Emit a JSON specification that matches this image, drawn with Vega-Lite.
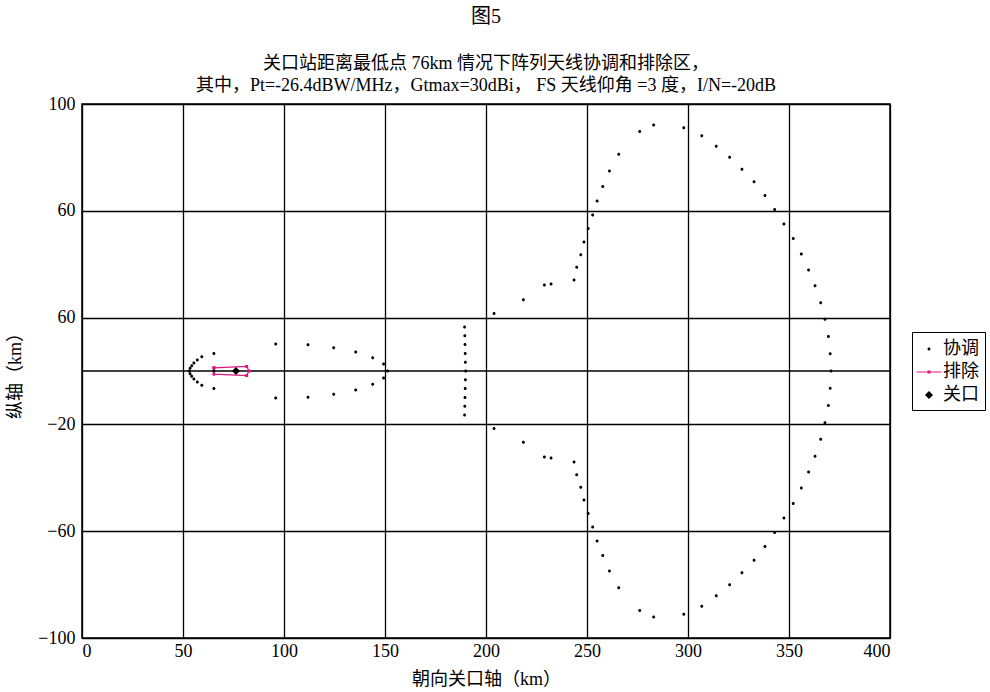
{
  "$schema": "https://vega.github.io/schema/vega-lite/v6.json",
  "width": 808,
  "height": 534,
  "autosize": {"type": "none"},
  "padding": {"left": 82, "top": 104, "right": 100, "bottom": 54},
  "background": "white",
  "config": {
    "font": "Liberation Serif, Noto Sans CJK SC",
    "view": {"stroke": "black", "strokeWidth": 1.5},
    "axis": {
      "grid": true, "gridColor": "black", "gridWidth": 1.3, "gridOpacity": 1,
      "domain": false, "ticks": false,
      "labelFont": "Liberation Serif, Noto Sans CJK SC", "labelFontSize": 18, "labelColor": "black",
      "titleFont": "Liberation Serif, Noto Sans CJK SC", "titleFontSize": 18, "titleFontWeight": "normal", "titleColor": "black"
    }
  },
  "title": {
    "text": "图5",
    "subtitle": ["关口站距离最低点 76km 情况下阵列天线协调和排除区，", "其中，Pt=-26.4dBW/MHz，Gtmax=30dBi， FS 天线仰角 =3 度，I/N=-20dB"],
    "anchor": "middle", "frame": "group",
    "font": "Liberation Serif, Noto Sans CJK SC", "fontSize": 20, "fontWeight": "normal", "color": "black",
    "subtitleFont": "Liberation Serif, Noto Sans CJK SC", "subtitleFontSize": 18, "subtitleColor": "black",
    "subtitleLineHeight": 22, "subtitlePadding": 28, "offset": 0
  },
  "data": {"values": [
    {"s":"协调","x":53.1,"y":0},{"s":"协调","x":53.5,"y":1.0},{"s":"协调","x":53.5,"y":-1.0},
    {"s":"协调","x":54.3,"y":2.0},{"s":"协调","x":54.3,"y":-2.0},{"s":"协调","x":55.4,"y":3.0},{"s":"协调","x":55.4,"y":-3.0},
    {"s":"协调","x":57.1,"y":4.1},{"s":"协调","x":57.1,"y":-4.1},{"s":"协调","x":59.3,"y":5.3},{"s":"协调","x":59.3,"y":-5.3},
    {"s":"协调","x":65.3,"y":6.6},{"s":"协调","x":65.3,"y":-6.6},{"s":"协调","x":65.3,"y":0},
    {"s":"协调","x":95.9,"y":10.1},{"s":"协调","x":95.9,"y":-10.1},{"s":"协调","x":111.9,"y":9.8},{"s":"协调","x":111.9,"y":-9.8},
    {"s":"协调","x":124.6,"y":8.7},{"s":"协调","x":124.6,"y":-8.7},{"s":"协调","x":135.5,"y":7.1},{"s":"协调","x":135.5,"y":-7.1},
    {"s":"协调","x":143.9,"y":5.0},{"s":"协调","x":143.9,"y":-5.0},{"s":"协调","x":149.3,"y":2.6},{"s":"协调","x":149.3,"y":-2.6},
    {"s":"协调","x":151.3,"y":0},
    {"s":"协调","x":189.4,"y":16.5},{"s":"协调","x":189.5,"y":13.2},{"s":"协调","x":189.6,"y":9.9},{"s":"协调","x":189.7,"y":6.6},
    {"s":"协调","x":189.8,"y":3.3},{"s":"协调","x":189.9,"y":0},{"s":"协调","x":189.8,"y":-3.3},{"s":"协调","x":189.7,"y":-6.6},
    {"s":"协调","x":189.6,"y":-9.9},{"s":"协调","x":189.5,"y":-13.2},{"s":"协调","x":189.4,"y":-16.5},
    {"s":"协调","x":204.0,"y":21.5},{"s":"协调","x":218.5,"y":26.7},{"s":"协调","x":228.9,"y":32.2},{"s":"协调","x":232.2,"y":32.6},
    {"s":"协调","x":243.6,"y":34.1},{"s":"协调","x":244.9,"y":38.9},{"s":"协调","x":246.9,"y":43.5},{"s":"协调","x":248.5,"y":48.3},
    {"s":"协调","x":250.6,"y":53.4},{"s":"协调","x":252.8,"y":58.4},{"s":"协调","x":255.0,"y":63.7},{"s":"协调","x":257.8,"y":69.1},
    {"s":"协调","x":261.1,"y":74.9},{"s":"协调","x":265.7,"y":81.2},{"s":"协调","x":276.1,"y":89.7},{"s":"协调","x":283.0,"y":92.1},
    {"s":"协调","x":297.9,"y":91.1},{"s":"协调","x":306.8,"y":88.1},{"s":"协调","x":314.0,"y":84.2},{"s":"协调","x":320.6,"y":80.1},
    {"s":"协调","x":326.7,"y":75.6},{"s":"协调","x":332.7,"y":70.9},{"s":"协调","x":338.1,"y":65.7},{"s":"协调","x":342.9,"y":60.5},
    {"s":"协调","x":347.5,"y":55.1},{"s":"协调","x":352.1,"y":49.6},{"s":"协调","x":356.1,"y":43.8},{"s":"协调","x":359.7,"y":37.8},
    {"s":"协调","x":362.9,"y":31.9},{"s":"协调","x":365.7,"y":25.6},{"s":"协调","x":367.8,"y":19.4},{"s":"协调","x":369.5,"y":12.9},
    {"s":"协调","x":370.4,"y":6.5},{"s":"协调","x":370.8,"y":0},
    {"s":"协调","x":204.0,"y":-21.5},{"s":"协调","x":218.5,"y":-26.7},{"s":"协调","x":228.9,"y":-32.2},{"s":"协调","x":232.2,"y":-32.6},
    {"s":"协调","x":243.6,"y":-34.1},{"s":"协调","x":244.9,"y":-38.9},{"s":"协调","x":246.9,"y":-43.5},{"s":"协调","x":248.5,"y":-48.3},
    {"s":"协调","x":250.6,"y":-53.4},{"s":"协调","x":252.8,"y":-58.4},{"s":"协调","x":255.0,"y":-63.7},{"s":"协调","x":257.8,"y":-69.1},
    {"s":"协调","x":261.1,"y":-74.9},{"s":"协调","x":265.7,"y":-81.2},{"s":"协调","x":276.1,"y":-89.7},{"s":"协调","x":283.0,"y":-92.1},
    {"s":"协调","x":297.9,"y":-91.1},{"s":"协调","x":306.8,"y":-88.1},{"s":"协调","x":314.0,"y":-84.2},{"s":"协调","x":320.6,"y":-80.1},
    {"s":"协调","x":326.7,"y":-75.6},{"s":"协调","x":332.7,"y":-70.9},{"s":"协调","x":338.1,"y":-65.7},{"s":"协调","x":342.9,"y":-60.5},
    {"s":"协调","x":347.5,"y":-55.1},{"s":"协调","x":352.1,"y":-49.6},{"s":"协调","x":356.1,"y":-43.8},{"s":"协调","x":359.7,"y":-37.8},
    {"s":"协调","x":362.9,"y":-31.9},{"s":"协调","x":365.7,"y":-25.6},{"s":"协调","x":367.8,"y":-19.4},{"s":"协调","x":369.5,"y":-12.9},
    {"s":"协调","x":370.4,"y":-6.5},
    {"s":"排除","x":65.3,"y":1.2,"o":1},{"s":"排除","x":81.5,"y":1.7,"o":2},{"s":"排除","x":82.7,"y":0,"o":3},
    {"s":"排除","x":81.5,"y":-1.7,"o":4},{"s":"排除","x":65.3,"y":-1.2,"o":5},{"s":"排除","x":65.3,"y":1.2,"o":6},
    {"s":"关口","x":76.2,"y":0},
    {"s":"零线","y":0}
  ]},
  "layer": [
    {
      "transform": [{"filter": "datum.s === '零线'"}],
      "mark": {"type": "rule", "color": "black", "strokeWidth": 1.3},
      "encoding": {"y": {"field": "y", "type": "quantitative"}}
    },
    {
      "transform": [{"filter": "datum.s === '排除'"}],
      "mark": {"type": "line", "color": "#e2157f", "strokeWidth": 1.2},
      "encoding": {
        "x": {"field": "x", "type": "quantitative"},
        "y": {"field": "y", "type": "quantitative"},
        "order": {"field": "o", "type": "quantitative"}
      }
    },
    {
      "transform": [{"filter": "datum.s === '排除'"}],
      "mark": {"type": "point", "filled": true, "color": "#e2157f", "size": 9, "opacity": 1, "shape": "square"},
      "encoding": {
        "x": {"field": "x", "type": "quantitative"},
        "y": {"field": "y", "type": "quantitative"}
      }
    },
    {
      "transform": [{"filter": "datum.s === '协调' || datum.s === '关口'"}],
      "mark": {"type": "point", "filled": true, "size": 400, "opacity": 1, "strokeWidth": 0},
      "encoding": {
        "x": {"field": "x", "type": "quantitative", "title": "朝向关口轴（km）",
          "scale": {"domain": [0, 400], "nice": false},
          "axis": {"values": [0, 50, 100, 150, 200, 250, 300, 350, 400], "labelPadding": 4, "titlePadding": 10}},
        "y": {"field": "y", "type": "quantitative", "title": "纵轴（km）",
          "scale": {"domain": [-100, 100], "nice": false},
          "axis": {"values": [-100, -60, -20, 20, 60, 100], "labelExpr": "datum.value === 20 ? '60' : datum.label", "labelPadding": 7, "titlePadding": 13}},
        "color": {"field": "s", "type": "nominal",
          "scale": {"domain": ["协调", "排除", "关口"], "range": ["black", "#e2157f", "black"]},
          "legend": {"title": null, "orient": "none", "legendX": 830, "legendY": 228,
            "strokeColor": "black", "fillColor": "white", "padding": 6, "rowPadding": 3,
            "symbolSize": 400, "labelFontSize": 18, "labelFont": "Liberation Serif, Noto Sans CJK SC", "labelColor": "black", "labelOffset": 3}},
        "shape": {"field": "s", "type": "nominal",
          "scale": {"domain": ["协调", "排除", "关口"], "range": [
            "M0.15,0A0.15,0.15,0,1,1,-0.15,0A0.15,0.15,0,1,1,0.15,0Z",
            "M-1.25,-0.06L1.25,-0.06L1.25,0.06L-1.25,0.06Z M-0.15,-0.15L0.15,-0.15L0.15,0.15L-0.15,0.15Z",
            "M0,-0.4L0.4,0L0,0.4L-0.4,0Z"]},
          "legend": {"title": null, "orient": "none", "legendX": 830, "legendY": 228}}
      }
    }
  ]
}
